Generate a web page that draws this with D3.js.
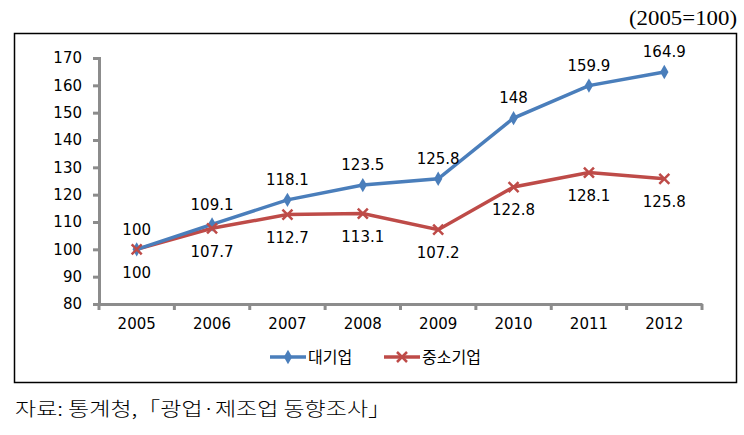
<!DOCTYPE html>
<html><head><meta charset="utf-8">
<script src="https://cdn.jsdelivr.net/npm/d3@7"></script>
<style>body{margin:0;background:#fff}svg{display:block}</style>
</head><body>
<svg id="c" width="744" height="435"></svg>
<script>
const years = ["2005","2006","2007","2008","2009","2010","2011","2012"];
const large = [100,109.1,118.1,123.5,125.8,148,159.9,164.9];
const sme = [100,107.7,112.7,113.1,107.2,122.8,128.1,125.8];
const largeLabels = ["100","109.1","118.1","123.5","125.8","148","159.9","164.9"];
const smeLabels = ["100","107.7","112.7","113.1","107.2","122.8","128.1","125.8"];
const yTicks = [80,90,100,110,120,130,140,150,160,170];
const seriesNames = ["대기업","중소기업"];

const svg = d3.select("#c");
const blue = "#4A7EBB", red = "#BE4B48", axisCol = "#8C8C8C";
const font = "'DejaVu Sans', Verdana, sans-serif";

svg.append("text").attr("x",737).attr("y",25).attr("text-anchor","end")
  .attr("font-family","'Liberation Serif', serif").attr("font-size",21)
  .attr("textLength",108).attr("lengthAdjust","spacingAndGlyphs").text("(2005=100)");

svg.append("rect").attr("x",14.5).attr("y",33.5).attr("width",722).attr("height",349)
  .attr("fill","none").attr("stroke","#000").attr("stroke-width",1.5);

const x = d3.scaleBand().domain(years).range([99,702]);
const y = d3.scaleLinear().domain([80,170]).range([304,58]);

const ya = svg.append("g").attr("transform","translate(99,0)")
  .call(d3.axisLeft(y).tickValues(yTicks).tickSize(6).tickPadding(11));
const xa = svg.append("g").attr("transform","translate(0,304)")
  .call(d3.axisBottom(x).tickSize(0).tickPadding(14));
[ya,xa].forEach(a=>{
  a.select(".domain").attr("stroke",axisCol).attr("stroke-width",3);
  a.selectAll(".tick line").attr("stroke",axisCol).attr("stroke-width",3);
  a.selectAll("text").attr("font-family",font).attr("font-size",15).attr("fill","#000");
});
const bounds = years.map(d=>x(d)).concat([x(years[years.length-1])+x.bandwidth()]);
svg.append("g").selectAll("line").data(bounds).join("line")
  .attr("x1",d=>d).attr("x2",d=>d).attr("y1",304).attr("y2",310)
  .attr("stroke",axisCol).attr("stroke-width",3);

const cx = d=>x(d)+x.bandwidth()/2;
const line = d3.line().x((d,i)=>cx(years[i])).y(d=>y(d));

svg.append("path").datum(sme).attr("d",line).attr("fill","none").attr("stroke",red).attr("stroke-width",3.5);
svg.append("path").datum(large).attr("d",line).attr("fill","none").attr("stroke",blue).attr("stroke-width",3.5);

const diamond = d3.symbol().type(d3.symbolDiamond).size(60);
svg.append("g").selectAll("path").data(large).join("path")
  .attr("d",diamond).attr("transform",(d,i)=>`translate(${cx(years[i])},${y(d)})`).attr("fill",blue);
svg.append("g").selectAll("path").data(sme).join("path")
  .attr("d",(d,i)=>{const px=cx(years[i]),py=y(d),s=5;return `M${px-s},${py-s}L${px+s},${py+s}M${px-s},${py+s}L${px+s},${py-s}`;})
  .attr("stroke",red).attr("stroke-width",2.5).attr("fill","none");

svg.append("g").selectAll("text").data(large).join("text")
  .attr("x",(d,i)=>cx(years[i])).attr("y",d=>y(d)-20).attr("dy","0.35em")
  .attr("text-anchor","middle").attr("font-family",font).attr("font-size",15).text((d,i)=>largeLabels[i]);
svg.append("g").selectAll("text").data(sme).join("text")
  .attr("x",(d,i)=>cx(years[i])).attr("y",d=>y(d)+23).attr("dy","0.35em")
  .attr("text-anchor","middle").attr("font-family",font).attr("font-size",15).text((d,i)=>smeLabels[i]);

const lg = svg.append("g");
const ly = 357;
lg.append("line").attr("x1",270).attr("x2",306).attr("y1",ly).attr("y2",ly).attr("stroke",blue).attr("stroke-width",3.5);
lg.append("path").attr("d",diamond).attr("transform",`translate(288,${ly})`).attr("fill",blue);
lg.append("text").attr("x",308).attr("y",ly).attr("dy","0.35em").attr("font-family","'Noto Sans CJK KR', sans-serif").attr("font-size",16).text(seriesNames[0]);
lg.append("line").attr("x1",384).attr("x2",420).attr("y1",ly).attr("y2",ly).attr("stroke",red).attr("stroke-width",3.5);
lg.append("path").attr("d",`M${397},${ly-5}L${407},${ly+5}M${397},${ly+5}L${407},${ly-5}`).attr("stroke",red).attr("stroke-width",2.5);
lg.append("text").attr("x",422).attr("y",ly).attr("dy","0.35em").attr("font-family","'Noto Sans CJK KR', sans-serif").attr("font-size",16).text(seriesNames[1]);

svg.append("text").attr("x",15).attr("y",416).attr("font-family","'Noto Sans CJK KR', sans-serif")
  .attr("font-size",19).attr("font-weight",300).attr("textLength",376).attr("lengthAdjust","spacingAndGlyphs")
  .text("자료: 통계청,「광업·제조업 동향조사」");
</script>
</body></html>
